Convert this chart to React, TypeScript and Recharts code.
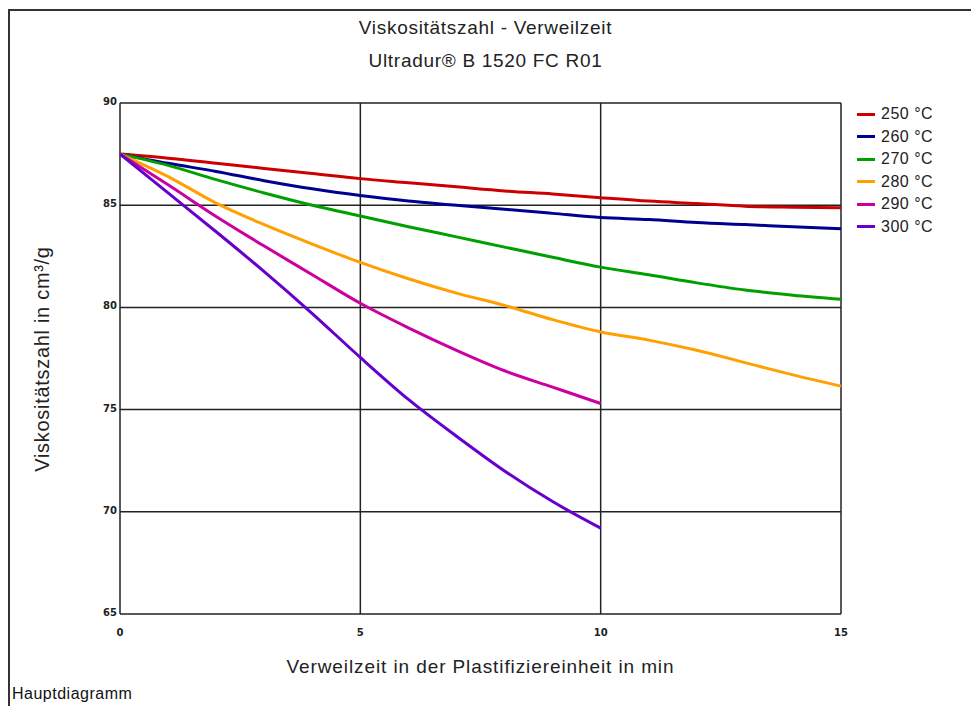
import { LineChart, Line, XAxis, YAxis, CartesianGrid, Legend } from "recharts";

// Verweilzeit in min
const times = [0, 1, 2, 3, 4, 5, 6, 7, 8, 9, 10, 11, 12, 13, 14, 15];

// Viskositätszahl in cm³/g per Temperatur
const v250 = [87.5, 87.3, 87.05, 86.8, 86.55, 86.3, 86.1, 85.9, 85.7, 85.55, 85.37, 85.2, 85.08, 84.95, 84.9, 84.87];
const v260 = [87.5, 87.05, 86.65, 86.2, 85.8, 85.47, 85.2, 85.0, 84.8, 84.6, 84.4, 84.3, 84.15, 84.05, 83.95, 83.85];
const v270 = [87.5, 86.95, 86.25, 85.6, 85.0, 84.47, 83.95, 83.45, 82.95, 82.45, 81.97, 81.6, 81.2, 80.85, 80.6, 80.4];
const v280 = [87.5, 86.4, 85.1, 84.05, 83.1, 82.2, 81.4, 80.7, 80.1, 79.4, 78.8, 78.4, 77.9, 77.3, 76.7, 76.15];
const v290 = [87.5, 86.0, 84.45, 83.0, 81.6, 80.2, 79.0, 77.9, 76.9, 76.1, 75.3];
const v300 = [87.5, 85.6, 83.7, 81.75, 79.7, 77.55, 75.5, 73.7, 72.0, 70.5, 69.2];

const xTicks = [0, 5, 10, 15];
const yTicks = [65, 70, 75, 80, 85, 90];

const series = [
  { key: "s250", name: "250 °C", color: "#cc0000", values: v250 },
  { key: "s260", name: "260 °C", color: "#000090", values: v260 },
  { key: "s270", name: "270 °C", color: "#00a000", values: v270 },
  { key: "s280", name: "280 °C", color: "#ffa000", values: v280 },
  { key: "s290", name: "290 °C", color: "#cc00a0", values: v290 },
  { key: "s300", name: "300 °C", color: "#6600cc", values: v300 },
];

const rows = times.map((t, i) => {
  const row: Record<string, number | undefined> = { t };
  series.forEach((s) => {
    row[s.key] = s.values[i];
  });
  return row;
});

const FONT = "'Liberation Sans', Arial, sans-serif";
const TICK_FONT = "'DejaVu Sans', sans-serif";

const XTick = (props: any) => {
  const { x, payload } = props;
  return (
    <text x={x} y={636} textAnchor="middle" fontFamily={TICK_FONT} fontSize={10} fontWeight="bold" fill="#222">
      {payload.value}
    </text>
  );
};

const YTick = (props: any) => {
  const { y, payload } = props;
  return (
    <text x={117} y={y + 2} textAnchor="end" fontFamily={TICK_FONT} fontSize={10} fontWeight="bold" fill="#222">
      {payload.value}
    </text>
  );
};

const LegendBox = () => (
  <div style={{ fontFamily: FONT, fontSize: 16, letterSpacing: 0.5, color: "#222" }}>
    {series.map((s) => (
      <div key={s.key} style={{ display: "flex", alignItems: "center", height: 22.5 }}>
        <span style={{ display: "inline-block", width: 18, height: 3, background: s.color, marginRight: 6 }} />
        <span>{s.name}</span>
      </div>
    ))}
  </div>
);

const textStyle = { fontSize: 19, letterSpacing: 0.7, color: "#222" };

export default function App() {
  return (
    <div style={{ position: "absolute", left: 0, top: 0, width: 971, height: 706, background: "#fff", overflow: "hidden", fontFamily: FONT }}>
      <div style={{ position: "absolute", left: 8, top: 9, width: 980, height: 720, borderLeft: "2px solid #333", borderTop: "2px solid #333" }} />
      <div style={{ position: "absolute", left: 0, width: 971, top: 17, textAlign: "center", ...textStyle }}>
        Viskositätszahl - Verweilzeit
      </div>
      <div style={{ position: "absolute", left: 0, width: 971, top: 50, textAlign: "center", ...textStyle }}>
        Ultradur® B 1520 FC R01
      </div>
      <div style={{ position: "absolute", left: 120, width: 721, top: 656, textAlign: "center", ...textStyle, letterSpacing: 0.9 }}>
        Verweilzeit in der Plastifiziereinheit in min
      </div>
      <div
        style={{
          position: "absolute",
          left: 42,
          top: 359,
          transform: "translate(-50%, -50%) rotate(-90deg)",
          whiteSpace: "nowrap",
          ...textStyle,
          fontSize: 20,
        }}
      >
        Viskositätszahl in cm³/g
      </div>
      <div style={{ position: "absolute", left: 12, top: 685, fontSize: 16, letterSpacing: 0.5, color: "#111" }}>Hauptdiagramm</div>
      <LineChart
        width={971}
        height={706}
        data={rows}
        margin={{ top: 103, right: 130, bottom: 62, left: 90 }}
        style={{ position: "absolute", left: 0, top: 0 }}
      >
        <CartesianGrid stroke="#222" strokeWidth={1.5} />
        <XAxis
          dataKey="t"
          type="number"
          domain={[0, 15]}
          ticks={xTicks}
          height={30}
          axisLine={false}
          tickLine={false}
          tick={XTick}
          interval={0}
        />
        <YAxis
          type="number"
          domain={[65, 90]}
          ticks={yTicks}
          width={30}
          axisLine={false}
          tickLine={false}
          tick={YTick}
          interval={0}
        />
        <Legend
          layout="vertical"
          verticalAlign="middle"
          align="center"
          content={<LegendBox />}
          wrapperStyle={{ top: 103, left: 857, width: 110 }}
        />
        {series.map((s) => (
          <Line
            key={s.key}
            dataKey={s.key}
            name={s.name}
            type="monotone"
            stroke={s.color}
            strokeWidth={3}
            dot={false}
            connectNulls={false}
            isAnimationActive={false}
          />
        ))}
      </LineChart>
    </div>
  );
}
